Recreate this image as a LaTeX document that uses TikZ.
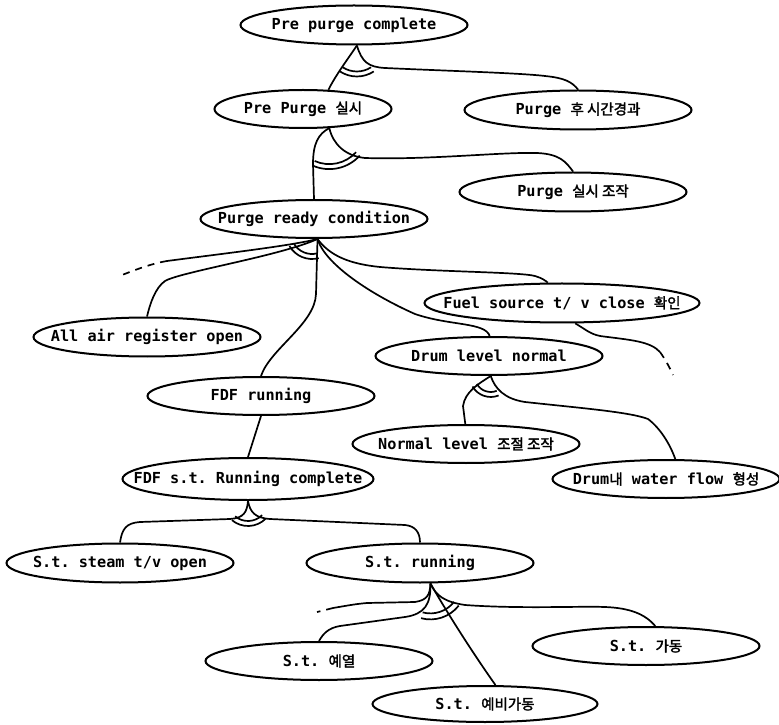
\documentclass[tikz,border=0pt]{standalone}
\usepackage{fontspec}
\setmonofont{DejaVu Sans Mono}
\newfontfamily\kr{Noto Sans CJK KR}[FakeBold=2]
\usetikzlibrary{shapes.geometric}
\newcommand{\ko}[1]{{\kr\mdseries\fontsize{14.5}{16}\selectfont #1}}
\newcommand{\inbox}[1]{\makebox[0pt]{#1}}

\begin{document}
\begin{tikzpicture}[x=1pt, y=1pt,
  font=\ttfamily\bfseries\fontsize{15.2}{16}\selectfont,
  goal/.style={draw, ellipse, line width=2pt, inner sep=0pt,
    minimum width=227pt, minimum height=39pt},
  link/.style={line width=1.7pt},
  loose/.style={line width=1.7pt, dash pattern=on 7pt off 6pt}]
\useasboundingbox (0,0) rectangle (779,724);

% Goals
\node[goal] (prec) at (354,699) {\inbox{Pre purge complete}};
\node[goal, minimum width=177pt, minimum height=38pt] (prepurge) at (303,615) {\inbox{Pre Purge \ko{실시}}};
\node[goal] (purgetime) at (578,614) {\inbox{Purge \ko{후 시간경과}}};
\node[goal] (purgeop) at (573,532) {\inbox{Purge \ko{실시 조작}}};
\node[goal, minimum height=38pt] (ready) at (314,505) {\inbox{Purge ready condition}};
\node[goal] (airreg) at (147,387) {\inbox{All air register open}};
\node[goal, minimum width=275pt] (fuel) at (562,421) {\inbox{Fuel source t/ v close \ko{확인}}};
\node[goal, minimum height=38pt] (drum) at (489,368) {\inbox{Drum level normal}};
\node[goal, minimum height=38pt] (fdf) at (261,328) {\inbox{FDF running}};
\node[goal, minimum height=38pt] (normlev) at (466,280) {\inbox{Normal level \ko{조절 조작}}};
\node[goal, minimum width=251pt, minimum height=42pt] (fdfst) at (248,245) {\inbox{FDF s.t. Running complete}};
\node[goal, minimum height=38pt] (waterflow) at (666,245) {\inbox{Drum\ko{내} water flow \ko{형성}}};
\node[goal] (steam) at (120,161) {\inbox{S.t. steam t/v open}};
\node[goal] (strun) at (420,161) {\inbox{S.t. running}};
\node[goal, minimum height=38pt] (stgadong) at (646,78) {\inbox{S.t. \ko{가동}}};
\node[goal, minimum height=38pt] (preheat) at (319,63) {\inbox{S.t. \ko{예열}}};
\node[goal, minimum width=225pt, minimum height=36pt] (standby) at (485,20) {\inbox{S.t. \ko{예비가동}}};

% Fork points
\coordinate (precfork) at (prec.-82);
\coordinate (prepfork) at (prepurge.-36);
\coordinate (readyfork) at (ready.-80);
\coordinate (drumfork) at (drum.-85);
\coordinate (fdfstfork) at (fdfst.south);
\coordinate (strunfork) at (strun.-63);

% Loose ends
\coordinate (readyfree) at (122,449);
\coordinate (fuelfree) at (673,349);
\coordinate (strunfree) at (317,112);

% Pre purge complete
\draw[link] (precfork) .. controls (350,668) and (335,648) .. (prepurge.37);
\draw[link] (precfork) .. controls (362,662) and (368,657) .. (385,656)
  .. controls (450,653) and (520,651) .. (545,648)
  .. controls (565,646) and (572,642) .. (purgetime.north);
\draw[link] (precfork) ++(237:26) arc[start angle=237, end angle=303, radius=26]
  (precfork) ++(237:31) arc[start angle=237, end angle=303, radius=31];

% Pre Purge
\draw[link] (prepfork) .. controls (318,590) and (313,580) .. (313,560) -- (ready.north);
\draw[link] (prepfork) .. controls (333,580) and (345,568) .. (365,566)
  .. controls (430,564) and (500,572) .. (537,571)
  .. controls (560,570) and (566,562) .. (purgeop.north);
\draw[link] (prepfork) ++(246:36) arc[start angle=246, end angle=318, radius=36]
  (prepfork) ++(246:41) arc[start angle=246, end angle=318, radius=41];

% Purge ready condition
\draw[link] (readyfork) .. controls (290,478) and (220,470) .. (167,463) coordinate (readycut);
\draw[loose] (readycut) .. controls (150,460) and (135,454) .. (readyfree);
\draw[link] (readyfork) .. controls (280,468) and (180,452) .. (165,443)
  .. controls (155,436) and (150,420) .. (airreg.north);
\draw[link] (readyfork) -- (316,430) .. controls (315,400) and (270,375) .. (fdf.north);
\draw[link] (readyfork) .. controls (325,460) and (370,430) .. (415,410)
  .. controls (450,398) and (485,402) .. (drum.88);
\draw[link] (readyfork) .. controls (330,468) and (350,460) .. (380,457)
  .. controls (440,452) and (520,452) .. (535,448)
  .. controls (542,446) and (546,443) .. (fuel.125);
\draw[link] (312,491) ++(210:21) arc[start angle=210, end angle=285, radius=21]
  (312,491) ++(210:26) arc[start angle=210, end angle=285, radius=26];

% Fuel source
\draw[link] (fuel.-57) .. controls (585,395) and (590,390) .. (600,388)
  .. controls (630,384) and (650,383) .. (660,372) coordinate (fuelcut);
\draw[loose] (fuelcut) .. controls (665,365) and (670,356) .. (fuelfree);

% Drum level normal
\draw[link] (drumfork) .. controls (478,340) and (465,332) .. (463,318) -- (normlev.92);
\draw[link] (drumfork) .. controls (495,335) and (505,325) .. (525,322)
  .. controls (580,316) and (630,312) .. (648,305)
  .. controls (660,296) and (670,280) .. (waterflow.65);
\draw[link] (drumfork) ++(210:16) arc[start angle=210, end angle=292, radius=16]
  (drumfork) ++(210:21) arc[start angle=210, end angle=292, radius=21];

% FDF
\draw[link] (fdf.south) -- (fdfst.north);
\draw[link] (fdfstfork) .. controls (247,212) and (244,206) .. (230,205) -- (140,202)
  .. controls (126,201) and (122,195) .. (steam.north);
\draw[link] (fdfstfork) .. controls (250,212) and (255,206) .. (270,205) -- (405,199)
  .. controls (415,198) and (420,192) .. (strun.north);
\draw[link] (fdfstfork) ++(230:20) arc[start angle=230, end angle=315, radius=20]
  (fdfstfork) ++(230:25) arc[start angle=230, end angle=315, radius=25];

% S.t. running
\draw[link] (strunfork) .. controls (430,130) and (428,124) .. (415,122) -- (367,121)
  .. controls (355,120) and (345,118) .. (333,116) coordinate (struncut);
\draw[loose] (struncut) -- (strunfree);
\draw[link] (strunfork) .. controls (431,120) and (425,110) .. (405,107) -- (340,98)
  .. controls (328,96) and (323,90) .. (preheat.north);
\draw[link] (strunfork) .. controls (445,115) and (470,75) .. (standby.61);
\draw[link] (strunfork) .. controls (436,128) and (445,122) .. (465,119)
  .. controls (520,115) and (580,118) .. (605,117)
  .. controls (630,116) and (645,110) .. (stgadong.65);
\draw[link] (strunfork) ++(255:30) arc[start angle=255, end angle=322, radius=30]
  (strunfork) ++(255:36) arc[start angle=255, end angle=322, radius=36];

\end{tikzpicture}
\end{document}
